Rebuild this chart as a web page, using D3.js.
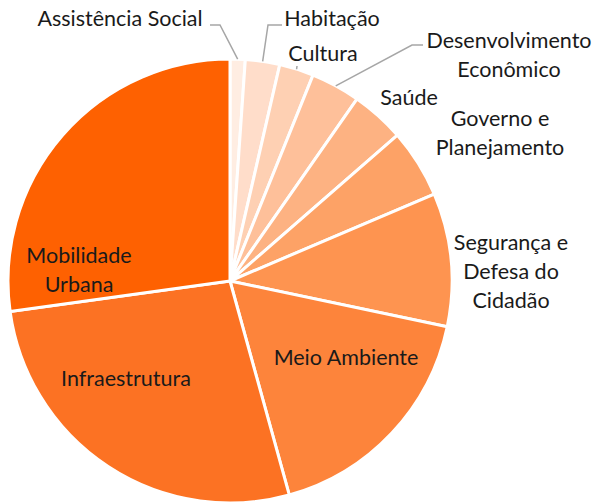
<!DOCTYPE html>
<meta charset="utf-8">

<head>
    <title>Distribuição por área</title>
</head>

<style>
    body {
        margin: 0;
        background: #fff;
    }

    text {
        font-family: Lato, 'Open Sans', sans-serif;
        font-size: 21.5px;
        fill: #1a1a1a;
    }

    .leader {
        fill: none;
        stroke: #a6a6a6;
        stroke-width: 1.5;
    }
</style>

<body>
    <svg id="chart" width="597" height="504"></svg>

    <script src="https://d3js.org/d3.v7.min.js"></script>
    <script>
        // data, clockwise from 12 o'clock
        const categories = ["Assistência Social", "Habitação", "Cultura", "Desenvolvimento Econômico", "Saúde",
            "Governo e Planejamento", "Segurança e Defesa do Cidadão", "Meio Ambiente", "Infraestrutura", "Mobilidade Urbana"];
        const values = [1.1, 2.5, 2.5, 3.6, 3.9, 5.0, 9.7, 17.4, 27.1, 27.2];
        const colours = ["#ffede2", "#ffddca", "#fed0b3", "#fec09a", "#fdb282",
            "#fda266", "#fe9450", "#fd843b", "#fc7223", "#fe6101"];

        // label layout: lines of text, centre x, first line y, and the leader bend points
        const labelLayout = {
            "Assistência Social": { lines: ["Assistência Social"], x: 120, y: 18, leader: [[220, 25], [210, 25]] },
            "Habitação": { lines: ["Habitação"], x: 332, y: 18, leader: [[268, 25], [282, 25]] },
            "Cultura": { lines: ["Cultura"], x: 323, y: 53, leader: [[297, 66]] },
            "Desenvolvimento Econômico": { lines: ["Desenvolvimento", "Econômico"], x: 509, y: 40, leader: [[412, 45], [423, 45]] },
            "Saúde": { lines: ["Saúde"], x: 409, y: 97 },
            "Governo e Planejamento": { lines: ["Governo e", "Planejamento"], x: 500, y: 118 },
            "Segurança e Defesa do Cidadão": { lines: ["Segurança e", "Defesa do", "Cidadão"], x: 511, y: 242 },
            "Meio Ambiente": { lines: ["Meio Ambiente"], x: 346, y: 357 },
            "Infraestrutura": { lines: ["Infraestrutura"], x: 126, y: 378 },
            "Mobilidade Urbana": { lines: ["Mobilidade", "Urbana"], x: 79, y: 255 }
        };
        const lineHeight = 29;

        const chart = d3.select("#chart");
        const cx = 230, cy = 281, radius = 222;

        const pie = d3.pie().sort(null).value(d => d.value);
        const arc = d3.arc().innerRadius(0).outerRadius(radius);

        const data = categories.map((c, i) => ({ name: c, value: values[i], colour: colours[i] }));
        const arcs = pie(data);

        const g = chart.append("g")
            .attr("transform", "translate(" + cx + "," + cy + ")");

        g.selectAll("path")
            .data(arcs)
            .enter()
            .append("path")
            .attr("d", arc)
            .style("fill", d => d.data.colour)
            .style("stroke", "#fff")
            .style("stroke-width", 3)
            .style("stroke-linejoin", "round");

        // leader lines from the middle of the outer edge to the label
        arcs.forEach(a => {
            const lay = labelLayout[a.data.name];
            if (!lay.leader) return;
            const mid = (a.startAngle + a.endAngle) / 2;
            const start = [cx + radius * Math.sin(mid), cy - radius * Math.cos(mid)];
            const pts = [start].concat(lay.leader);
            chart.append("path")
                .attr("class", "leader")
                .attr("d", d3.line()(pts));
        });

        // labels
        const labels = chart.append("g")
            .selectAll("text")
            .data(arcs)
            .enter()
            .append("text")
            .attr("text-anchor", "middle")
            .attr("dominant-baseline", "central");

        labels.each(function (d) {
            const lay = labelLayout[d.data.name];
            const t = d3.select(this);
            lay.lines.forEach((line, i) => {
                t.append("tspan")
                    .attr("x", lay.x)
                    .attr("y", lay.y + i * lineHeight)
                    .text(line);
            });
        });
    </script>
</body>

</html>
